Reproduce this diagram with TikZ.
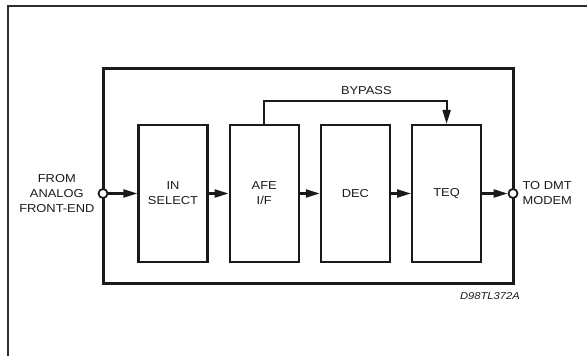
\documentclass[tikz,border=0pt]{standalone}
\usepackage{fontspec}
\setmainfont[FakeStretch=1.12]{Liberation Sans}
\usepackage{xcolor}
\usepackage{tikz}
\usetikzlibrary{arrows.meta, positioning}
\definecolor{dark}{HTML}{1A1A1A}
\definecolor{framegray}{HTML}{2E2E2E}
\tikzset{
    chipbox/.style={
        rectangle, draw=dark, line width=3pt, inner sep=0pt, outer sep=0pt,
        minimum width=410pt, minimum height=215pt
    },
    stageblock/.style={
        rectangle, draw=dark, line width=2.2pt, inner sep=0pt,
        minimum width=69pt, minimum height=137pt,
        font=\fontsize{11.5}{15}\selectfont, text=dark, align=center
    },
    pinnode/.style={
        circle, draw=dark, fill=white, line width=1.8pt,
        minimum size=9pt, inner sep=0pt
    },
    pinlab/.style={
        font=\fontsize{11.5}{15}\selectfont, text=dark, inner sep=0pt
    },
    tagtext/.style={
        font=\fontsize{10}{11}\selectfont\itshape, text=dark, inner sep=0pt
    },
    sigarrow/.style={
        -{Triangle[length=14pt, width=8pt]}, line width=2.2pt, color=dark
    },
}
\begin{document}
\begin{tikzpicture}[x=1pt, y=1pt, node distance=20pt]
    \useasboundingbox (0,0) rectangle (587,356);

    % Outer frame (only top and left edges fall in the picture)
    \draw[framegray, line width=2.5pt] (587,350) -- (8,350) -- (8,0);

    % Chip outline
    \node[chipbox] (chip) at (308,179.5) {};

    % Processing stages
    \node[stageblock] (insel) at (173,162.5) {IN\\SELECT};
    \node[stageblock, right=of insel] (afe) {AFE\\I/F};
    \node[stageblock, right=of afe] (dec) {DEC};
    \node[stageblock, right=of dec] (teq) {TEQ};

    % Pins on the chip edge
    \node[pinnode] (pinin) at (chip.west |- insel.west) {};
    \node[pinnode] (pinout) at (chip.east |- teq.east) {};

    % Signal flow
    \draw[sigarrow] (pinin) -- (insel);
    \draw[sigarrow] (insel) -- (afe);
    \draw[sigarrow] (afe) -- (dec);
    \draw[sigarrow] (dec) -- (teq);
    \draw[sigarrow] (teq) -- (pinout);

    % Bypass path
    \draw[sigarrow] (afe.north) -- ++(0,23) -| node[pinlab, pos=0.28, above=5pt] (bypass) {BYPASS} (teq.north);

    % Labels
    \node[pinlab, align=center, left=3pt of pinin] (src) {FROM\\ANALOG\\FRONT-END};
    \node[pinlab, align=left, right=4pt of pinout] (dst) {TO DMT\\MODEM};
    \node[tagtext, below left=8pt and -7pt of chip.south east] (tag) {D98TL372A};

\end{tikzpicture}
\end{document}
